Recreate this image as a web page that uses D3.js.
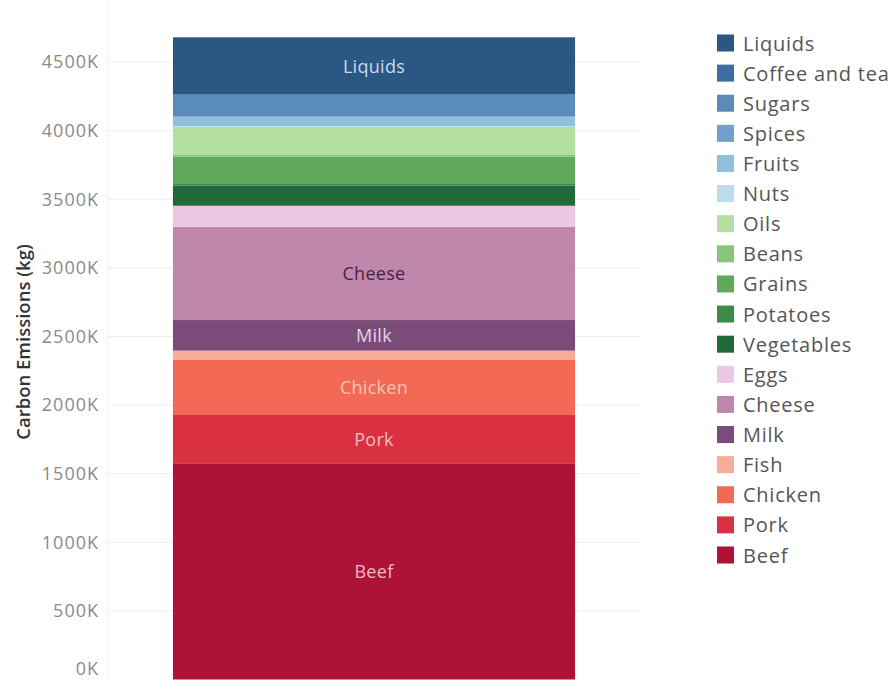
<!DOCTYPE html>
<html>
<head>
<meta charset="utf-8">
<script src="https://cdn.jsdelivr.net/npm/d3@7"></script>
<style>
  html, body { margin: 0; padding: 0; background: #ffffff; }
  svg { display: block; font-family: "Open Sans", "Noto Sans", sans-serif; }
</style>
</head>
<body>
<div id="chart"></div>
<script>
// Categories in legend order (top of legend / top of stack first)
const categories = ["Liquids", "Coffee and tea", "Sugars", "Spices", "Fruits", "Nuts", "Oils", "Beans", "Grains", "Potatoes", "Vegetables", "Eggs", "Cheese", "Milk", "Fish", "Chicken", "Pork", "Beef"];
// Carbon emissions (kg) per category
const emissions = [416000, 5000, 157000, 5000, 64000, 5000, 206000, 12000, 194000, 16000, 148000, 153000, 680000, 223000, 68000, 401000, 352000, 1576000];
const colors = ["#2a5783", "#3c6e9f", "#5b8cb9", "#70a0cb", "#8fbfdf", "#b9dcef", "#b3dfa2", "#86c67a", "#61a95a", "#3a8c48", "#23683b", "#ebc7e3", "#be87ab", "#7b4c7a", "#f7ac97", "#f26a56", "#d9313f", "#ac1336"];
const labelColors = ["#c9dbee", "#ffffff", "#ffffff", "#ffffff", "#ffffff", "#ffffff", "#ffffff", "#ffffff", "#ffffff", "#ffffff", "#ffffff", "#ffffff", "#4a1f47", "#e9d0e8", "#ffffff", "#fbc3b2", "#f5bcc1", "#f3b6c5"];
const yTicks = [0, 500000, 1000000, 1500000, 2000000, 2500000, 3000000, 3500000, 4000000, 4500000];
const barName = ["Total"];
const labelThreshold = 210000;

const W = 896, H = 681;
const svg = d3.select("#chart").append("svg").attr("width", W).attr("height", H);

const plot = { left: 107, right: 641, bottom: 679.5 };
const y = d3.scaleLinear().domain([0, 4500000]).range([plot.bottom, 62.1]);
const x = d3.scaleBand().domain(barName).range([plot.left, plot.right]).paddingInner(0).paddingOuter(0.164);

// gridlines
svg.append("g").selectAll("line").data(yTicks.filter(d => d > 0)).join("line")
  .attr("x1", plot.left).attr("x2", plot.right)
  .attr("y1", d => y(d)).attr("y2", d => y(d))
  .attr("stroke", "#eeeeee").attr("stroke-width", 1);
// faint axis line
svg.append("line").attr("x1", plot.left + 0.5).attr("x2", plot.left + 0.5)
  .attr("y1", 0).attr("y2", H).attr("stroke", "#f2f2f2");

// stack data bottom to top
const order = categories.slice().reverse();
const row = { name: barName[0] };
categories.forEach((c, i) => row[c] = emissions[i]);
const series = d3.stack().keys(order)([row]);
const colorOf = d3.scaleOrdinal().domain(categories).range(colors);
const labelColorOf = d3.scaleOrdinal().domain(categories).range(labelColors);

const bars = svg.append("g");
series.forEach(s => {
  const d = s[0];
  bars.append("rect")
    .attr("x", x(barName[0]))
    .attr("width", x.bandwidth())
    .attr("y", y(d[1]))
    .attr("height", y(d[0]) - y(d[1]))
    .attr("fill", colorOf(s.key));
});
series.forEach(s => {
  const d = s[0];
  if (d[1] - d[0] >= labelThreshold) {
    bars.append("text")
      .attr("x", x(barName[0]) + x.bandwidth() / 2)
      .attr("y", (y(d[0]) + y(d[1])) / 2)
      .attr("text-anchor", "middle")
      .attr("dominant-baseline", "central")
      .attr("font-size", 18)
      .attr("letter-spacing", 0.3)
      .attr("fill", labelColorOf(s.key))
      .text(s.key);
  }
});

// y axis
const yAxis = d3.axisLeft(y).tickValues(yTicks).tickSize(0).tickPadding(8)
  .tickFormat(d => (d / 1000) + "K");
const ag = svg.append("g").attr("transform", `translate(${plot.left},0)`).call(yAxis);
ag.select(".domain").remove();
ag.selectAll("text").attr("font-size", 18).attr("letter-spacing", 1)
  .attr("fill", "#8a8a8a").attr("font-family", "\"Open Sans\", sans-serif")
  .attr("dy", d => d === 0 ? "-0.3em" : "0.32em");

// axis title
svg.append("text")
  .attr("transform", `translate(22, 342) rotate(-90)`)
  .attr("text-anchor", "middle")
  .attr("dominant-baseline", "central")
  .attr("font-size", 18.5).attr("font-weight", 600).attr("fill", "#333333")
  .text("Carbon Emissions (kg)");

// legend
const lg = svg.append("g");
const rowY = d3.scalePoint().domain(categories).range([43, 555]);
categories.forEach(c => {
  lg.append("rect").attr("x", 717).attr("y", rowY(c) - 8.5).attr("width", 17).attr("height", 17).attr("fill", colorOf(c));
  lg.append("text").attr("x", 743).attr("y", rowY(c))
    .attr("dominant-baseline", "central")
    .attr("font-size", 20).attr("letter-spacing", 0.75)
    .attr("fill", "#555555").text(c);
});
</script>
</body>
</html>
